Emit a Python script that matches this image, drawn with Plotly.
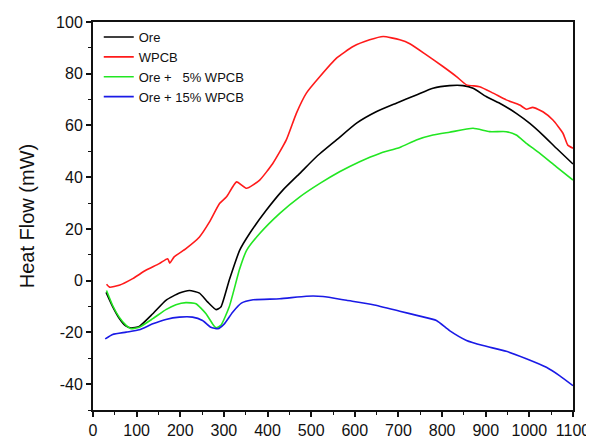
import plotly.graph_objects as go

# Temperature (x) and heat flow (mW) per series
ore_x = [30, 45, 60, 75, 87, 106, 137, 167, 198, 221, 244, 263, 282, 293, 312, 336, 360, 397, 435, 474, 512, 558, 604, 649, 695, 741, 779, 817, 848, 871, 901, 932, 970, 1001, 1031, 1062, 1100]
ore_y = [-4.5, -10, -14.5, -17.5, -18.3, -17.7, -12.8, -7.6, -4.8, -3.8, -4.8, -8.3, -11.2, -10.2, 0.1, 11.7, 18.5, 27.2, 35, 41.5, 47.9, 54.4, 60.9, 65.3, 68.6, 71.8, 74.4, 75.4, 75.4, 74.4, 71.2, 68.6, 64.7, 60.8, 56.3, 51.2, 45.1]

wpcb_x = [31, 38, 60, 91, 121, 152, 171, 176, 186, 213, 244, 267, 290, 306, 329, 352, 382, 412, 443, 466, 489, 520, 558, 596, 634, 665, 703, 726, 764, 802, 833, 856, 886, 917, 947, 978, 993, 1008, 1031, 1054, 1077, 1088, 1100]
wpcb_y = [-1.4, -2.5, -1.8, 0.8, 4, 6.6, 8.5, 6.8, 9.2, 12.4, 16.9, 22.7, 29.8, 32.4, 38.2, 35.7, 38.9, 45.3, 54.4, 64.7, 72.5, 78.9, 86, 90.5, 93.1, 94.4, 93.1, 91.6, 87.3, 82.8, 78.9, 75.7, 75, 72.5, 69.9, 67.9, 66.3, 67, 65.3, 62.1, 57, 52.4, 51.2]

ore5_x = [31, 45, 60, 76, 87, 106, 137, 167, 190, 213, 236, 259, 274, 282, 293, 312, 336, 352, 382, 428, 474, 520, 565, 611, 657, 703, 741, 779, 817, 871, 909, 947, 970, 993, 1024, 1062, 1100]
ore5_y = [-3.8, -9.6, -14.1, -17.3, -18.6, -18, -14.7, -11.2, -9.3, -8.5, -8.9, -12.8, -16.7, -18.2, -17.3, -10.2, 4.5, 11.7, 18.2, 26, 32.4, 37.6, 42.1, 46, 49.2, 51.5, 54.4, 56.3, 57.4, 58.9, 57.6, 57.6, 56.3, 53.1, 49.2, 44, 38.9]

ore15_x = [28, 45, 76, 106, 137, 167, 198, 228, 251, 270, 286, 301, 320, 340, 367, 428, 489, 527, 581, 642, 703, 749, 787, 817, 856, 894, 947, 993, 1039, 1069, 1100]
ore15_y = [-22.5, -20.8, -19.9, -19, -16.7, -15, -14.1, -14.1, -15.4, -18, -18.6, -16.7, -12.2, -8.7, -7.4, -7, -6, -6.1, -7.6, -9.3, -11.8, -13.7, -15.4, -19.3, -23.1, -25.1, -27.3, -30.2, -33.5, -36.7, -40.6]

x_ticks = list(range(0, 1101, 100))
y_ticks = [-40, -20, 0, 20, 40, 60, 80, 100]
y_ticktext = ["-40", "-20", "0", "20", "40", "60", "80", "100"]

names = ["Ore", "WPCB", "Ore + \u00a0\u00a05% WPCB", "Ore + 15% WPCB"]
colors = ["#000000", "#ff1a1a", "#22e622", "#1a1ae6"]
series = [(ore_x, ore_y), (wpcb_x, wpcb_y), (ore5_x, ore5_y), (ore15_x, ore15_y)]

fig = go.Figure()
for (sx, sy), n, c in zip(series, names, colors):
    fig.add_trace(go.Scatter(x=sx, y=sy, mode="lines", name=n,
                             line=dict(color=c, width=1.6, shape="spline", smoothing=0.5)))

font_family = "Liberation Sans, Arial, sans-serif"
# the page body adds an 8px offset, so the figure is 8px smaller with margins shifted
fig.update_layout(
    width=586, height=430,
    margin=dict(l=85, r=21, t=14, b=28, autoexpand=False),
    paper_bgcolor="white", plot_bgcolor="white",
    font=dict(family=font_family, color="#111111", size=16),
    showlegend=True,
    legend=dict(x=0.012, y=1.0, xanchor="left", yanchor="top",
                bgcolor="rgba(0,0,0,0)", font=dict(size=13, color="#111111"),
                tracegroupgap=0, itemwidth=30),
)
fig.update_xaxes(range=[0, 1100], tickvals=x_ticks, automargin=False,
                 showgrid=False, zeroline=False, showline=True, linecolor="#111111", linewidth=2,
                 mirror=True, ticks="outside", ticklen=5, tickwidth=1.5, tickcolor="#111111",
                 minor=dict(ticks="outside", ticklen=3, dtick=50, tickcolor="#111111", tickwidth=1.2),
                 tickfont=dict(size=16))
fig.update_yaxes(range=[-50, 100], tickvals=y_ticks, ticktext=y_ticktext, automargin=False,
                 showgrid=False, zeroline=False, showline=True, linecolor="#111111", linewidth=2,
                 mirror=True, ticks="outside", ticklen=5, tickwidth=1.5, tickcolor="#111111",
                 minor=dict(ticks="outside", ticklen=3, dtick=10, tickcolor="#111111", tickwidth=1.2),
                 tickfont=dict(size=16),
                 title=dict(text="Heat Flow (mW)", font=dict(size=20), standoff=16))

fig.write_html("out.html")
